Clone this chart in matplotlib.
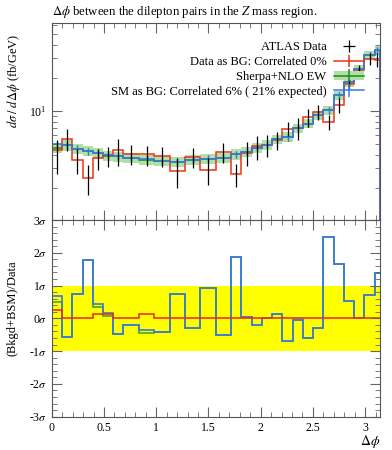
import matplotlib
matplotlib.use("Agg")
import matplotlib.pyplot as plt
import matplotlib.ticker as mticker
from matplotlib.patches import Patch
import numpy as np

plt.rcParams['font.family'] = ['Liberation Serif', 'DejaVu Serif']
plt.rcParams['mathtext.fontset'] = 'stix'

# bin edges in delta phi
bin_edges = [0.000, 0.098, 0.196, 0.295, 0.393, 0.491, 0.589, 0.687, 0.834, 0.982,
             1.129, 1.276, 1.424, 1.571, 1.718, 1.816, 1.914, 2.013, 2.111, 2.209,
             2.307, 2.405, 2.503, 2.602, 2.700, 2.798, 2.896, 2.994, 3.093, 3.142]

# ATLAS data (fb/GeV)
data_vals = [4.10, 5.61, 3.61, 2.46, 3.70, 3.92, 4.39, 4.04, 4.00, 3.87,
             2.85, 3.82, 2.93, 4.21, 2.66, 4.19, 4.78, 4.95, 5.40, 6.92,
             7.06, 8.82, 9.79, 7.94, 11.4, 17.5, 23.8, 29.9, 29.3]
data_err = [1.40, 1.30, 0.93, 0.75, 0.80, 0.83, 1.20, 0.84, 0.82, 0.80,
            0.85, 0.82, 0.80, 0.86, 0.62, 1.06, 1.16, 1.10, 1.00, 1.00,
            1.60, 1.70, 1.50, 1.20, 1.80, 1.90, 2.50, 3.80, 4.00]

# Data as BG: Correlated 0%
red_vals = [4.46, 5.61, 3.61, 2.46, 3.77, 3.99, 4.39, 4.04, 4.08, 3.87,
            2.85, 3.82, 2.93, 4.21, 2.66, 4.19, 4.78, 4.95, 5.40, 6.92,
            7.06, 8.82, 9.79, 7.94, 11.4, 17.5, 23.8, 29.9, 29.3]

# Sherpa+NLO EW
sherpa_vals = [4.63, 4.88, 4.55, 4.33, 4.12, 3.93, 3.87, 3.77, 3.60, 3.51,
               3.44, 3.61, 3.69, 3.77, 4.04, 4.23, 4.61, 4.95, 5.55, 5.80,
               7.00, 7.68, 9.14, 10.1, 13.9, 18.3, 23.9, 32.0, 35.6]
sherpa_band = [0.50, 0.52, 0.49, 0.46, 0.44, 0.42, 0.41, 0.40, 0.38, 0.37,
               0.37, 0.38, 0.39, 0.40, 0.43, 0.45, 0.49, 0.52, 0.56, 0.58,
               0.68, 0.74, 0.86, 0.95, 1.28, 1.65, 2.15, 2.85, 3.20]

# SM as BG: Correlated 6% ( 21% expected)
blue_vals = [4.98, 4.88, 4.55, 4.33, 4.19, 4.00, 3.87, 3.77, 3.68, 3.51,
             3.44, 3.61, 3.69, 3.77, 4.04, 4.23, 4.61, 4.95, 5.55, 5.80,
             7.00, 7.68, 9.14, 10.1, 13.9, 18.3, 23.9, 32.0, 35.6]
mc_err = [0.36, 0.36, 0.33, 0.32, 0.31, 0.29, 0.28, 0.27, 0.27, 0.26,
          0.25, 0.26, 0.27, 0.27, 0.29, 0.31, 0.33, 0.36, 0.40, 0.42,
          0.51, 0.56, 0.66, 0.73, 1.00, 1.32, 1.73, 2.31, 2.58]

# pulls in the ratio panel (sigma)
pull_red = [0.27, 0, 0, 0, 0.12, 0.12, 0, 0, 0.12, 0,
            0, 0, 0, 0, 0, 0, 0, 0, 0, 0,
            0, 0, 0, 0, 0, 0, 0, 0, 0]
pull_green = [0.50, -0.56, 0.73, 1.78, 0.35, 0.07, -0.48, -0.20, -0.44, -0.43,
              0.73, -0.29, 0.93, -0.51, 1.88, 0.05, -0.19, 0.00, 0.12, -0.69,
              -0.05, -0.60, -0.29, 2.47, 1.66, 0.53, 0.02, 0.70, 1.37]
pull_blue = [0.68, -0.56, 0.73, 1.78, 0.44, 0.15, -0.48, -0.20, -0.36, -0.43,
             0.73, -0.29, 0.93, -0.51, 1.88, 0.05, -0.19, 0.00, 0.12, -0.69,
             -0.05, -0.60, -0.29, 2.47, 1.66, 0.53, 0.02, 0.70, 1.37]

RED = '#ee3311'
BLUE = '#3b78e7'
GREEN = '#1c8a1c'
BAND = '#b0e0a8'

edges = np.array(bin_edges)
centers = 0.5 * (edges[:-1] + edges[1:])

fig = plt.figure(figsize=(3.92, 4.5), dpi=100)
ax = fig.add_axes([0.132, 0.511, 0.837, 0.437])
axr = fig.add_axes([0.132, 0.074, 0.837, 0.437], sharex=ax)

# --- main panel
band_lo = np.array(sherpa_vals) - np.array(sherpa_band)
band_hi = np.array(sherpa_vals) + np.array(sherpa_band)
ax.fill_between(edges, np.append(band_lo, band_lo[-1]), np.append(band_hi, band_hi[-1]),
                step='post', color=BAND, lw=0)
ax.stairs(sherpa_vals, edges, color=GREEN, lw=1.1)
ax.errorbar(centers, sherpa_vals, yerr=mc_err, fmt='none', ecolor=GREEN, elinewidth=0.9)
ax.stairs(red_vals, edges, color=RED, lw=1.1)
ax.stairs(blue_vals, edges, color=BLUE, lw=1.1)
ax.errorbar(centers, blue_vals, yerr=mc_err, fmt='none', ecolor=BLUE, elinewidth=0.9)
ax.errorbar(centers, data_vals, yerr=data_err, fmt='none', ecolor='black', elinewidth=0.9)

ax.set_yscale('log')
ax.set_ylim(1.02, 62.5)
ax.set_xlim(0, np.pi)
ax.yaxis.set_major_locator(mticker.LogLocator(base=10, numticks=5))
ax.yaxis.set_minor_locator(mticker.LogLocator(base=10, subs=np.arange(2, 10), numticks=10))
ax.yaxis.set_minor_formatter(mticker.NullFormatter())
ax.yaxis.set_major_formatter(mticker.LogFormatterMathtext())
ax.tick_params(labelbottom=False)
ax.set_ylabel(r'$d\sigma\;/\;d\Delta\phi$ (fb/GeV)', loc='top', fontsize=9)
ax.yaxis.set_label_coords(-0.09, 0.95)

# legend proxies
data_h = ax.errorbar([np.nan], [np.nan], xerr=[1], yerr=[1], fmt='none',
                     ecolor='black', elinewidth=0.9)
red_h = ax.errorbar([np.nan], [np.nan], yerr=[1], fmt='-', color=RED, lw=1.1)
green_h = ax.errorbar([np.nan], [np.nan], yerr=[1], fmt='-', color=GREEN, lw=1.1)
blue_h = ax.errorbar([np.nan], [np.nan], yerr=[1], fmt='-', color=BLUE, lw=1.1)
handles = [data_h, red_h, (Patch(color=BAND, lw=0), green_h), blue_h]
labels = ['ATLAS Data', 'Data as BG: Correlated 0%', 'Sherpa+NLO EW',
          'SM as BG: Correlated 6% ( 21% expected)']
ax.legend(handles, labels, loc='upper right', bbox_to_anchor=(0.97, 0.94),
          markerfirst=False, frameon=False, fontsize=9, handlelength=2.4,
          labelspacing=0.22, borderpad=0, handletextpad=0.6)

# --- ratio panel
axr.axhspan(-1, 1, color='#ffff00', lw=0)
axr.stairs(pull_green, edges, color='#44aa22', lw=1.2, baseline=None)
axr.stairs(pull_blue, edges, color=BLUE, lw=1.2, baseline=None)
axr.stairs(pull_red, edges, color=RED, lw=1.2, baseline=None)
axr.set_ylim(-3, 3)
axr.set_yticks([-3, -2, -1, 0, 1, 2, 3])
axr.set_yticklabels(['-3$\\sigma$', '-2$\\sigma$', '-1$\\sigma$', '0$\\sigma$',
                     '1$\\sigma$', '2$\\sigma$', '3$\\sigma$'])
axr.yaxis.set_minor_locator(mticker.MultipleLocator(0.2))
axr.xaxis.set_major_locator(mticker.MultipleLocator(0.5))
axr.xaxis.set_minor_locator(mticker.MultipleLocator(0.1))
axr.xaxis.set_major_formatter(mticker.FuncFormatter(lambda v, p: f'{v:g}'))
axr.set_ylabel('(Bkgd+BSM)/Data', fontsize=9)
axr.yaxis.set_label_coords(-0.1, 0.55)
axr.set_xlabel(r'$\Delta\phi$', loc='right', fontsize=10)
axr.xaxis.set_label_coords(1.0, -0.085)

for a in (ax, axr):
    a.tick_params(which='both', direction='in', top=True, right=True,
                  labelsize=8.5, color='#666666')
    a.tick_params(which='major', length=7)
    a.tick_params(which='minor', length=3.5)
    for s in a.spines.values():
        s.set_color('#555555')
        s.set_linewidth(0.8)

fig.text(0.132, 0.973, r'$\Delta\phi$ between the dilepton pairs in the $Z$ mass region.',
         fontsize=9.2, ha='left', va='center')

fig.savefig('out.png', dpi=100)
